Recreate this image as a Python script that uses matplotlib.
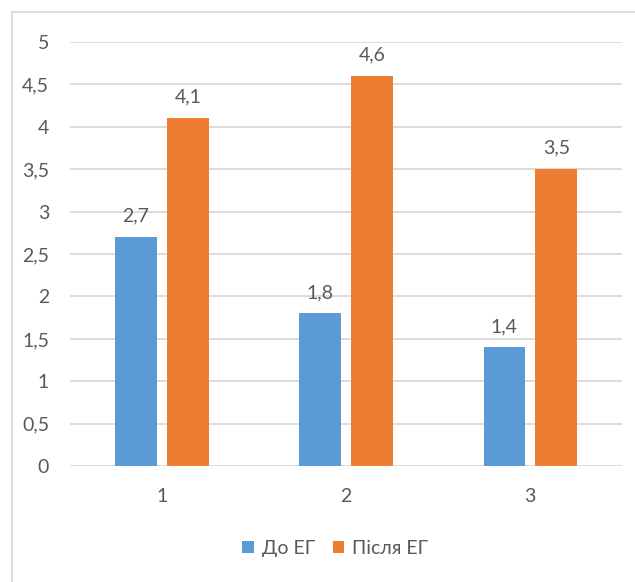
import numpy as np
import matplotlib.pyplot as plt
from matplotlib.lines import Line2D

groups = ["1", "2", "3"]
before = [2.7, 1.8, 1.4]
after = [4.1, 4.6, 3.5]
series_names = ["До ЕГ", "Після ЕГ"]

BLUE = "#5B9BD5"
ORANGE = "#ED7D31"
TEXT = "#595959"
GRID = "#D9D9D9"

plt.rcParams["font.family"] = ["Lato", "DejaVu Sans"]

fig = plt.figure(figsize=(6.35, 5.82), dpi=100)
ax = fig.add_axes([0.110, 0.199, 0.870, 0.729])

x = np.arange(1, len(groups) + 1)
w = 0.225
off = 0.141
b1 = ax.bar(x - off, before, w, color=BLUE, label=series_names[0], zorder=3)
b2 = ax.bar(x + off, after, w, color=ORANGE, label=series_names[1], zorder=3)

for bars, vals in ((b1, before), (b2, after)):
    for r, v in zip(bars, vals):
        ax.annotate(f"{v:.1f}".replace(".", ","),
                    (r.get_x() + r.get_width() / 2, v),
                    xytext=(0, 9), textcoords="offset points",
                    ha="center", va="bottom", fontsize=14, color=TEXT)

ax.set_xlim(0.5, 3.5)
ax.set_ylim(0, 5)
yt = np.arange(0, 5.01, 0.5)
ax.set_yticks(yt)
ax.set_yticklabels([f"{t:g}".replace(".", ",") for t in yt])
ax.set_xticks(x)
ax.set_xticklabels(groups)
ax.tick_params(axis="both", length=0, labelsize=14, labelcolor=TEXT)
ax.tick_params(axis="y", pad=15)
ax.tick_params(axis="x", pad=16)
ax.yaxis.grid(True, color=GRID, linewidth=1.3, zorder=0)
for s in ax.spines.values():
    s.set_visible(False)

# chart frame: left and top edges
fig.add_artist(Line2D([12 / 635, 12 / 635], [0, 1 - 12 / 582],
                      transform=fig.transFigure, color=GRID, lw=1.3))
fig.add_artist(Line2D([12 / 635, 1], [1 - 12 / 582, 1 - 12 / 582],
                      transform=fig.transFigure, color=GRID, lw=1.3))

fig.legend(handles=[b1, b2], loc="center", bbox_to_anchor=(0.528, 0.058),
           ncol=2, frameon=False, fontsize=14, labelcolor=TEXT,
           handlelength=0.6, handleheight=0.6, handletextpad=0.4,
           columnspacing=0.9)

fig.savefig("out.png", dpi=100)
